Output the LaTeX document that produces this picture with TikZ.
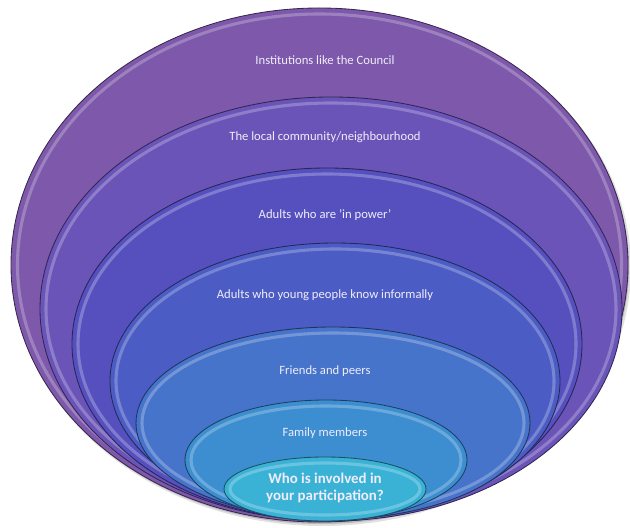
\documentclass[tikz,border=0pt]{standalone}
\usepackage{fontspec}
\setmainfont{Carlito}
\definecolor{bandA}{RGB}{125,88,171}
\definecolor{bandB}{RGB}{106,84,184}
\definecolor{bandC}{RGB}{86,80,190}
\definecolor{bandD}{RGB}{75,92,196}
\definecolor{bandE}{RGB}{70,116,202}
\definecolor{bandF}{RGB}{60,142,208}
\definecolor{bandG}{RGB}{58,178,214}
\definecolor{labeltext}{RGB}{240,236,250}
\tikzset{
  band/.style={draw=black!55!#1, line width=0.6pt, fill=#1},
  bevel/.style={draw=#1!45!white, line width=2.2pt, opacity=0.45},
  bandlabel/.style={text=labeltext, font=\fontsize{9}{10}\selectfont},
}
\begin{document}
\begin{tikzpicture}[x=0.025cm, y=0.025cm]
  \useasboundingbox (0,0) rectangle (630,527);
  % Shadow under the outer ring
  \fill[black, opacity=0.12] (322,259) ellipse [x radius=309, y radius=258];
  \fill[black, opacity=0.18] (321,260) ellipse [x radius=308, y radius=257];
  % Rings, outside in
  \draw[band=bandA] (319.5,262) ellipse [x radius=308.5, y radius=257];
  \draw[bevel=bandA] (319.5,262) ellipse [x radius=302, y radius=251];
  \draw[band=bandB] (331,218) ellipse [x radius=291, y radius=212];
  \draw[bevel=bandB] (331,218) ellipse [x radius=285, y radius=206];
  \draw[band=bandC] (327,183) ellipse [x radius=255, y radius=176];
  \draw[bevel=bandC] (327,183) ellipse [x radius=249, y radius=170];
  \draw[band=bandD] (335,146) ellipse [x radius=225, y radius=138];
  \draw[bevel=bandD] (335,146) ellipse [x radius=219, y radius=132];
  \draw[band=bandE] (333,104) ellipse [x radius=197, y radius=96];
  \draw[bevel=bandE] (333,104) ellipse [x radius=191, y radius=90];
  \draw[band=bandF] (326,67) ellipse [x radius=141, y radius=60];
  \draw[bevel=bandF] (326,67) ellipse [x radius=135, y radius=54];
  \draw[band=bandG] (325,38) ellipse [x radius=101, y radius=32];
  \draw[bevel=bandG] (325,38) ellipse [x radius=95, y radius=26];
  % Labels
  \node[bandlabel] (council) at (325,467) {Institutions like the Council};
  \node[bandlabel] (local) at (325,390) {The local community/neighbourhood};
  \node[bandlabel] (power) at (325,312) {Adults who are 'in power'};
  \node[bandlabel] (informal) at (325,232) {Adults who young people know informally};
  \node[bandlabel] (friends) at (325,156) {Friends and peers};
  \node[bandlabel] (family) at (325,94) {Family members};
  \node[bandlabel, font=\fontsize{10.6}{12}\bfseries\selectfont, align=center] (who) at (325,39)
    {Who is involved in\\your participation?};
\end{tikzpicture}
\end{document}
